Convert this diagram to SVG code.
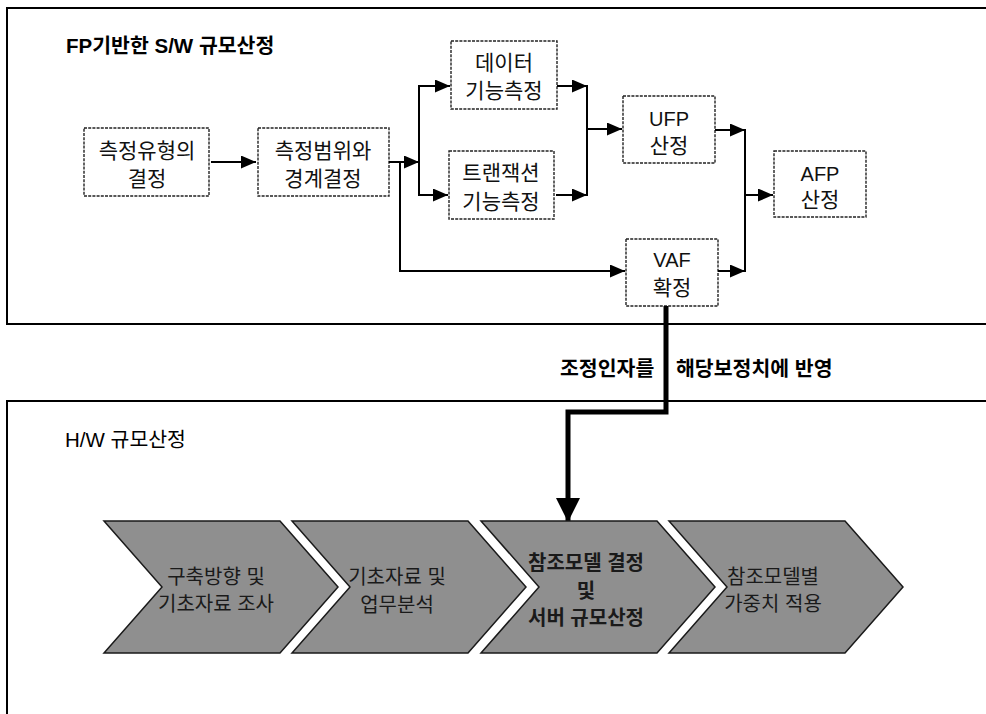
<svg xmlns="http://www.w3.org/2000/svg" width="986" height="714" viewBox="0 0 986 714">
<defs>
<marker id="ah" markerUnits="userSpaceOnUse" markerWidth="15" markerHeight="13" refX="15" refY="6.5" orient="auto"><path d="M0,0 L15,6.5 L0,13 z" fill="#000"/></marker>
<marker id="big" markerUnits="userSpaceOnUse" markerWidth="24" markerHeight="26" refX="24" refY="12" orient="auto"><path d="M0,0 L24,12 L0,24 z" fill="#000"/></marker>
<style>
.panel{fill:#fff;stroke:#000;stroke-width:2}
.box{fill:#fff;stroke:#222;stroke-width:1.4;stroke-dasharray:3 1.2}
.t{font-family:"Liberation Sans","Noto Sans CJK KR",sans-serif;font-size:21px;fill:#111;text-anchor:middle}
.lat{font-size:20px}
.h{font-family:"Liberation Sans","Noto Sans CJK KR",sans-serif;font-size:20.5px;fill:#000}
.b{font-weight:bold}
.ln{fill:none;stroke:#000;stroke-width:2}
.thick{fill:none;stroke:#000;stroke-width:5}
.chev{fill:#8f8f8f;stroke:#1a1a1a;stroke-width:1.5}
.ct{font-family:"Liberation Sans","Noto Sans CJK KR",sans-serif;font-size:20px;fill:#1a1a1a;text-anchor:middle}
</style>
</defs>
<rect width="986" height="714" fill="#fff"/>
<g id="panel-sw">
<rect class="panel" x="7" y="8" width="995" height="316"/>
<text class="h b" x="66" y="53">FP기반한 S/W 규모산정</text>
</g>
<g id="panel-hw">
<rect class="panel" x="7" y="401" width="995" height="330"/>
<text class="h" x="65" y="447">H/W 규모산정</text>
</g>
<g id="n-type">
<rect class="box" x="84" y="128" width="125" height="68"/>
<text class="t" x="147" y="158">측정유형의</text>
<text class="t" x="147" y="186">결정</text>
</g>
<g id="n-scope">
<rect class="box" x="258" y="128" width="131" height="68"/>
<text class="t" x="323" y="158">측정범위와</text>
<text class="t" x="323" y="186">경계결정</text>
</g>
<g id="n-data">
<rect class="box" x="451" y="41" width="106" height="68"/>
<text class="t" x="504" y="70">데이터</text>
<text class="t" x="504" y="98">기능측정</text>
</g>
<g id="n-tx">
<rect class="box" x="449" y="151" width="105" height="68"/>
<text class="t" x="501" y="180">트랜잭션</text>
<text class="t" x="501" y="209">기능측정</text>
</g>
<g id="n-ufp">
<rect class="box" x="623" y="96" width="92" height="67"/>
<text class="t lat" x="669" y="126">UFP</text>
<text class="t" x="669" y="153">산정</text>
</g>
<g id="n-vaf">
<rect class="box" x="626" y="239" width="92" height="67"/>
<text class="t lat" x="672" y="267">VAF</text>
<text class="t" x="672" y="295">확정</text>
</g>
<g id="n-afp">
<rect class="box" x="774" y="151" width="92" height="66"/>
<text class="t lat" x="820" y="181">AFP</text>
<text class="t" x="820" y="207">산정</text>
</g>
<g id="connectors">
<path class="ln" d="M211,162 H256" marker-end="url(#ah)"/>
<path class="ln" d="M389,162 H419" marker-end="url(#ah)"/>
<path class="ln" d="M419,86 V195"/>
<path class="ln" d="M418,86 H450" marker-end="url(#ah)"/>
<path class="ln" d="M418,195 H448" marker-end="url(#ah)"/>
<path class="ln" d="M400,162 V271 H625" marker-end="url(#ah)"/>
<path class="ln" d="M557,86 H587" marker-end="url(#ah)"/>
<path class="ln" d="M556,195 H587" marker-end="url(#ah)"/>
<path class="ln" d="M587,85 V196"/>
<path class="ln" d="M587,129 H622" marker-end="url(#ah)"/>
<path class="ln" d="M715,130 H745" marker-end="url(#ah)"/>
<path class="ln" d="M718,271 H745" marker-end="url(#ah)"/>
<path class="ln" d="M745,129 V272"/>
<path class="ln" d="M745,195 H773" marker-end="url(#ah)"/>
<path class="thick" d="M666,306 V412 H568 V522" marker-end="url(#big)"/>
</g>
<g id="label">
<text class="h b" y="376"><tspan x="560">조정인자를 </tspan><tspan x="676">해당보정치에 반영</tspan></text>
</g>
<g id="c1">
<polygon class="chev" points="104,521 280,521 338,587 280,653 104,653 162,587"/>
<text class="ct" x="216" y="584">구축방향 및</text>
<text class="ct" x="216" y="611">기초자료 조사</text>
</g>
<g id="c2">
<polygon class="chev" points="292,521 468,521 526,587 468,653 292,653 350,587"/>
<text class="ct" x="397" y="584">기초자료 및</text>
<text class="ct" x="397" y="612">업무분석</text>
</g>
<g id="c3">
<polygon class="chev" points="481,521 657,521 715,587 657,653 481,653 539,587"/>
<text class="ct b" x="586" y="570">참조모델 결정</text>
<text class="ct b" x="586" y="598">및</text>
<text class="ct b" x="586" y="625">서버 규모산정</text>
</g>
<g id="c4">
<polygon class="chev" points="669,521 845,521 903,587 845,653 669,653 727,587"/>
<text class="ct" x="773" y="584">참조모델별</text>
<text class="ct" x="773" y="611">가중치 적용</text>
</g>
</svg>
